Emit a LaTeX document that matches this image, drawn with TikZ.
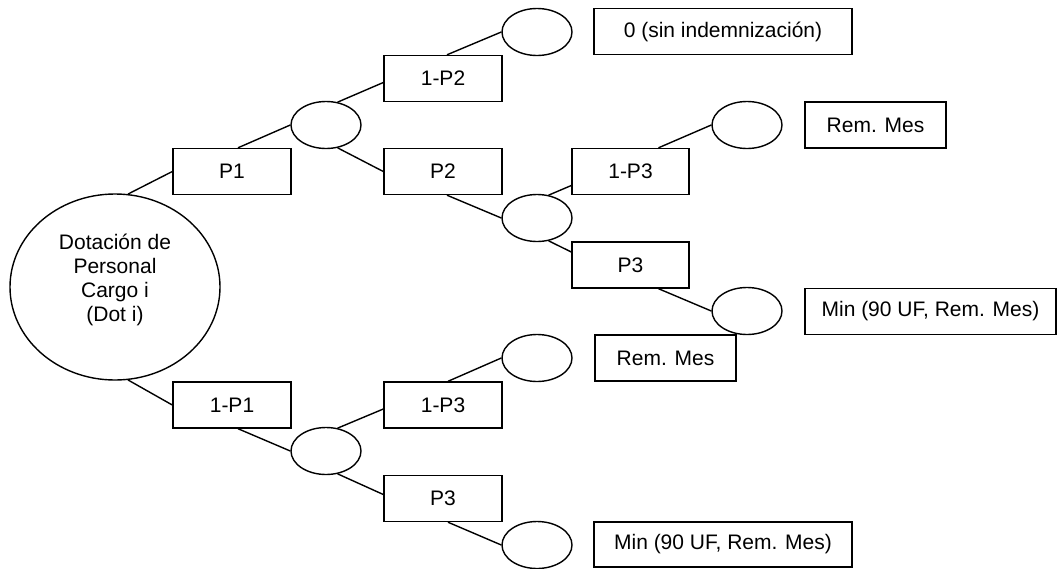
\documentclass[tikz,border=0pt]{standalone}
\usepackage{fontspec}
\setmainfont{Liberation Sans}
\usetikzlibrary{shapes.geometric}
\begin{document}
\begin{tikzpicture}[x=1pt,y=-1pt,
  every node/.style={font=\fontsize{21}{24}\selectfont},
  box/.style={draw,line width=1.4pt,rectangle,inner sep=0pt,minimum height=46pt},
  chance/.style={draw,line width=1.4pt,ellipse,inner sep=0pt,minimum width=70pt,minimum height=47pt},
  conn/.style={line width=1.4pt}]
\useasboundingbox (0,0) rectangle (1057,568);
% root
\node[draw,line width=1.4pt,ellipse,inner sep=0pt,minimum width=210pt,minimum height=186pt] (dot) at (115,287) {\raisebox{0pt}[\height][\dimexpr\depth+12pt\relax]{\begin{tabular}{@{}c@{}}Dotación de\\Personal\\Cargo i\\(Dot i)\end{tabular}}};
% boxes
\node[box,minimum width=118pt] (p1) at (232,171.5) {P1};
\node[box,minimum width=118pt] (np1) at (232,405) {1-P1};
\node[box,minimum width=118pt] (np2) at (443,78.5) {1-P2};
\node[box,minimum width=118pt] (p2) at (443,171.5) {P2};
\node[box,minimum width=117pt] (np3a) at (630.5,171.5) {1-P3};
\node[box,minimum width=117pt] (p3a) at (630.5,265) {P3};
\node[box,minimum width=118pt] (np3b) at (443,405) {1-P3};
\node[box,minimum width=118pt] (p3b) at (443,498.5) {P3};
\node[box,minimum width=258pt] (sin) at (723,31.5) {0 (sin indemnización)};
\node[box,minimum width=141pt] (rma) at (875.5,125) {Rem. Mes};
\node[box,minimum width=251pt] (mina) at (930.5,311.5) {Min (90 UF, Rem. Mes)};
\node[box,minimum width=141pt] (rmb) at (665.5,358) {Rem. Mes};
\node[box,minimum width=258pt,minimum height=45pt] (minb) at (723,544.5) {Min (90 UF, Rem. Mes)};
% chance nodes
\node[chance] (e1) at (326,125) {};
\node[chance] (etop) at (537,32) {};
\node[chance] (e2) at (537,218) {};
\node[chance] (erm) at (747,125) {};
\node[chance] (emin) at (747,311) {};
\node[chance] (e3) at (326,451) {};
\node[chance] (e4) at (537,358) {};
\node[chance] (e5) at (537,545) {};
% connectors
\draw[conn] (dot.82) -- (p1.west);
\draw[conn] (dot.-82) -- (np1.west);
\draw[conn] ([xshift=6pt]p1.north) -- (e1.west);
\draw[conn] (e1.63) -- ([yshift=-4pt]np2.west);
\draw[conn] (e1.-63) -- (p2.west);
\draw[conn] ([xshift=4pt]np2.north) -- (etop.west);
\draw[conn] ([xshift=4pt]p2.south) -- (e2.west);
\draw[conn] (e2.63) -- ([yshift=-14pt]np3a.west);
\draw[conn] (e2.-63) -- ([yshift=13pt]p3a.west);
\draw[conn] ([xshift=28pt]np3a.north) -- (erm.west);
\draw[conn] ([xshift=28pt]p3a.south) -- (emin.west);
\draw[conn] ([xshift=6pt]np1.south) -- (e3.west);
\draw[conn] (e3.63) -- ([yshift=-4pt]np3b.west);
\draw[conn] (e3.-63) -- ([yshift=4pt]p3b.west);
\draw[conn] ([xshift=5pt]np3b.north) -- (e4.west);
\draw[conn] ([xshift=5pt]p3b.south) -- (e5.west);
\end{tikzpicture}
\end{document}
